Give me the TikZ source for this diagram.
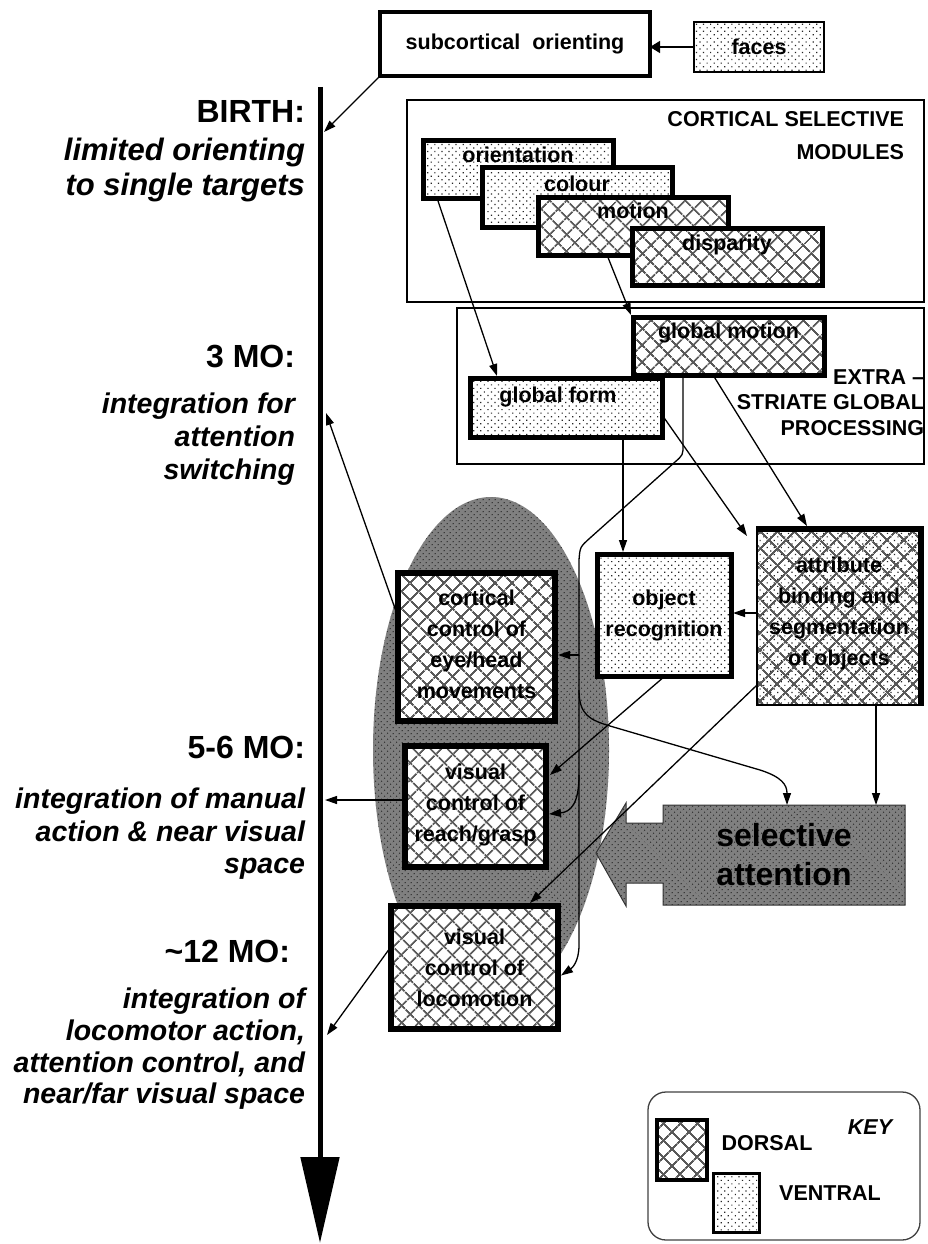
\documentclass[tikz,border=0pt]{standalone}
\usepackage{fontspec}
\setmainfont{Liberation Sans}
\usetikzlibrary{patterns.meta,arrows.meta,calc}
\tikzset{
  lab/.style={font=\fontsize{21.5}{21.5}\selectfont\bfseries},
  blab/.style={font=\fontsize{21.5}{31}\selectfont\bfseries, align=center},
  head/.style={font=\fontsize{32}{32}\selectfont\bfseries, anchor=base east},
  itA/.style={font=\fontsize{31}{31}\selectfont\bfseries\itshape, anchor=base east},
  itB/.style={font=\fontsize{28.5}{28.5}\selectfont\bfseries\itshape, anchor=base east},
  conn/.style={line width=1.3pt, -{Triangle[length=12pt,width=8pt]}},
  frame/.style={draw, line width=1.3pt, anchor=north west},
  hatchA/.style={preaction={pattern={Lines[angle=45,distance=13pt,line width=2pt]}, pattern color=black!65}},
  hatchB/.style={preaction={pattern={Lines[angle=-45,distance=13pt,line width=2pt]}, pattern color=black!65}},
  dotsP/.style={preaction={pattern={Dots[distance=5pt,angle=45,radius=0.85pt]}, pattern color=black!85}},
  dorsal/.style={draw, line width=5pt, anchor=north west, preaction={fill=white}, hatchA, hatchB},
  ventral/.style={draw, line width=5pt, anchor=north west, preaction={fill=white}, dotsP},
  both/.style={draw, line width=2pt, anchor=north west, preaction={fill=white}, dotsP, hatchA, hatchB},
  greyfill/.style={fill=black!50,
    postaction={pattern={Dots[distance=4pt,angle=45,radius=0.8pt]}, pattern color=black!80}},
}
\begin{document}
\begin{tikzpicture}[x=1pt,y=-1pt, every node/.style={inner sep=0pt,outer sep=0pt}]
\useasboundingbox (0,0) rectangle (927,1244);

% ---------- frames ----------
\node[frame, minimum width=517pt, minimum height=202pt] (csm) at (407,100) {};
\node[lab, anchor=base east] (csm1) at (904,127) {CORTICAL SELECTIVE};
\node[lab, anchor=base east] (csm2) at (904,159) {MODULES};

\node[frame, minimum width=467pt, minimum height=156pt] (egp) at (457,308) {};
\node[lab, anchor=base east] (egp1) at (924,384) {EXTRA --};
\node[lab, anchor=base east] (egp2) at (924,409) {STRIATE GLOBAL};
\node[lab, anchor=base east] (egp3) at (924,435) {PROCESSING};

% ---------- ellipse ----------
\path[greyfill] (491,750) ellipse [x radius=118, y radius=253];

% ---------- top ----------
\node[draw, line width=4.5pt, fill=white, anchor=north west, minimum width=270pt, minimum height=64pt] (subc) at (380,12) {};
\node[lab] (subcT) at (subc.center) {subcortical\ \ orienting};
\node[ventral, line width=1.6pt, minimum width=130pt, minimum height=50pt] (faces) at (694,22) {};
\node[lab] (facesT) at (faces.center) {faces};

% ---------- modules ----------
\node[ventral, minimum width=190pt, minimum height=58pt] (orient) at (423,140) {};
\node[lab, anchor=base] (orientT) at ($(orient.north)+(0,22)$) {orientation};
\node[ventral, minimum width=190pt, minimum height=60pt] (colour) at (482,167) {};
\node[lab, anchor=base] (colourT) at ($(colour.north)+(0,24)$) {colour};
\node[dorsal, minimum width=190pt, minimum height=58pt] (motion) at (538,197) {};
\node[lab, anchor=base] (motionT) at ($(motion.north)+(0,21)$) {motion};
\node[dorsal, minimum width=190pt, minimum height=57pt] (disp) at (632,228) {};
\node[lab, anchor=base] (dispT) at ($(disp.north)+(0,22)$) {disparity};

% ---------- global ----------
\node[dorsal, minimum width=191pt, minimum height=58pt] (gmotion) at (633,317) {};
\node[lab, anchor=base] (gmotionT) at ($(gmotion.north)+(0,21)$) {global motion};
\node[ventral, minimum width=192pt, minimum height=59pt] (gform) at (470,378) {};
\node[lab, anchor=base] (gformT) at ($(gform.north)+(-8,24)$) {global form};

% ---------- lower boxes ----------
\node[ventral, minimum width=134pt, minimum height=122pt] (objrec) at (597,554) {};
\node[blab] (objrecT) at (objrec.center) {object\\recognition};
\node[both, minimum width=164pt, minimum height=176pt] (attr) at (757,529) {};
\draw[line width=6pt] ($(attr.north west)+(-1,0)$) -- (attr.north east) -- ($(attr.south east)+(0,1)$);
\node[blab] (attrT) at ($(attr.center)+(0,-4)$) {attribute\\binding and\\segmentation\\of objects};
\node[dorsal, line width=6pt, minimum width=157pt, minimum height=148pt] (cort) at (398,573) {};
\node[blab] (cortT) at ($(cort.center)+(0,-3)$) {cortical\\control of\\eye/head\\movements};
\node[dorsal, line width=6pt, minimum width=141pt, minimum height=121pt] (reach) at (405,746) {};
\node[blab] (reachT) at ($(reach.center)+(0,-2)$) {visual\\control of\\reach/grasp};
\node[dorsal, line width=6pt, minimum width=167pt, minimum height=123pt] (loco) at (391,906) {};
\node[blab] (locoT) at (loco.center) {visual\\control of\\locomotion};

% ---------- selective attention ----------
\path[greyfill, draw=black!80, line width=1pt] (596,853) -- (626,803) -- (626,823) -- (663,823) -- (663,805) -- (905,805) -- (905,905) -- (663,905) -- (663,883) -- (626,883) -- (626,906) -- cycle;
\node[minimum width=242pt, minimum height=100pt, align=center, font=\fontsize{32}{39}\selectfont\bfseries] (sa) at (784,855) {selective\\attention};

% ---------- timeline ----------
\coordinate (tltop) at (320,87);
\coordinate (tlend) at (320,1243);
\draw[line width=5pt, -{Triangle[length=86pt,width=38pt]}] (tltop) -- (tlend);
\coordinate (tl0) at (324,132);
\coordinate (tl1) at (326,413);
\coordinate (tl2) at (325,800);
\coordinate (tl3) at (327,1035);

% ---------- connectors ----------
\draw[line width=1.3pt, -{Triangle[length=10pt,width=12pt]}] (faces.west) -- (faces.west -| subc.east);
\draw[conn] (subc.south west) -- (tl0);
\draw[conn] ($(orient.south west)+(14,0)$) -- ($(gform.north west)+(27,-2)$);
\draw[conn] ($(motion.south west)+(69,0)$) -- ($(gmotion.north west)+(-2,-2)$);
\draw[conn] ($(gform.south west)+(153,0)$) -- ($(objrec.north west)+(26,-2)$);
\draw[conn] ($(gform.north east)+(-2,34)$) -- ($(attr.north west)+(-10,7)$);
\draw[conn] ($(gmotion.south west)+(80,0)$) -- ($(attr.north west)+(50,-3)$);

\coordinate (vb1) at (579,655);
\coordinate (vb2) at (579,690);
\coordinate (vb3) at (579,775);
\draw[conn] ($(gmotion.south west)+(50,0)$) -- (683,445) .. controls (683,455) .. (675,462) -- (590,538) .. controls (580,547) .. (579,560) -- (579,945) .. controls (579,962) and (572,968) .. ($(loco.east)+(3,8)$);
\draw[conn] (vb1) -- ($(cort.north east)+(3,82)$);
\draw[conn] (vb2) .. controls (579,715) and (590,720) .. (610,726) -- (760,770) .. controls (782,777) and (787,785) .. ($(sa.north west)+(124,0)$);
\draw[conn] (vb3) .. controls (579,805) and (570,812) .. ($(reach.north east)+(3,68)$);
\draw[conn] ($(objrec.south west)+(68,0)$) -- ($(reach.north east)+(4,29)$);
\draw[conn] ($(attr.south west)+(0,-20)$) -- ($(loco.north west)+(139,-3)$);
\draw[conn] ($(attr.north west)+(0,84)$) -- ($(objrec.north east)+(2,59)$);
\draw[conn] ($(attr.south west)+(119,0)$) -- ($(sa.north west)+(213,0)$);

\draw[conn] ($(cort.north west)+(0,44)$) -- (tl1);
\draw[conn] ($(reach.north west)+(0,54)$) -- (tl2);
\draw[conn] ($(loco.north west)+(-1,42)$) -- (tl3);

% ---------- left texts ----------
\node[head] (h1) at (305,123) {BIRTH:};
\node[itA] (h1a) at (305,160) {limited orienting};
\node[itA] (h1b) at (305,195) {to single targets};
\node[head] (h2) at (295,367) {3 MO:};
\node[itB] (h2a) at (295,413) {integration for};
\node[itB] (h2b) at (295,446) {attention};
\node[itB] (h2c) at (295,479) {switching};
\node[head] (h3) at (305,758) {5-6 MO:};
\node[itB] (h3a) at (305,808) {integration of manual};
\node[itB] (h3b) at (305,841) {action \& near visual};
\node[itB] (h3c) at (305,873) {space};
\node[head] (h4) at (290,962) {\textasciitilde 12 MO:};
\node[itB] (h4a) at (305,1008) {integration of};
\node[itB] (h4b) at (305,1040) {locomotor action,};
\node[itB] (h4c) at (305,1072) {attention control, and};
\node[itB] (h4d) at (305,1103) {near/far visual space};

% ---------- key ----------
\node[draw=black!75, line width=1.3pt, rounded corners=18pt, anchor=north west, minimum width=272pt, minimum height=148pt] (key) at (648,1092) {};
\node[dorsal, line width=4pt, minimum width=50pt, minimum height=60pt] (kd) at (657,1120) {};
\node[ventral, line width=3pt, minimum width=46pt, minimum height=59pt] (kv) at (713,1173) {};
\node[lab, anchor=base] (kdT) at (767,1150) {DORSAL};
\node[lab, anchor=base] (kvT) at (830,1200) {VENTRAL};
\node[lab, font=\fontsize{21.5}{21.5}\selectfont\bfseries\itshape, anchor=base] (keyT) at (870,1134) {KEY};
\end{tikzpicture}
\end{document}
